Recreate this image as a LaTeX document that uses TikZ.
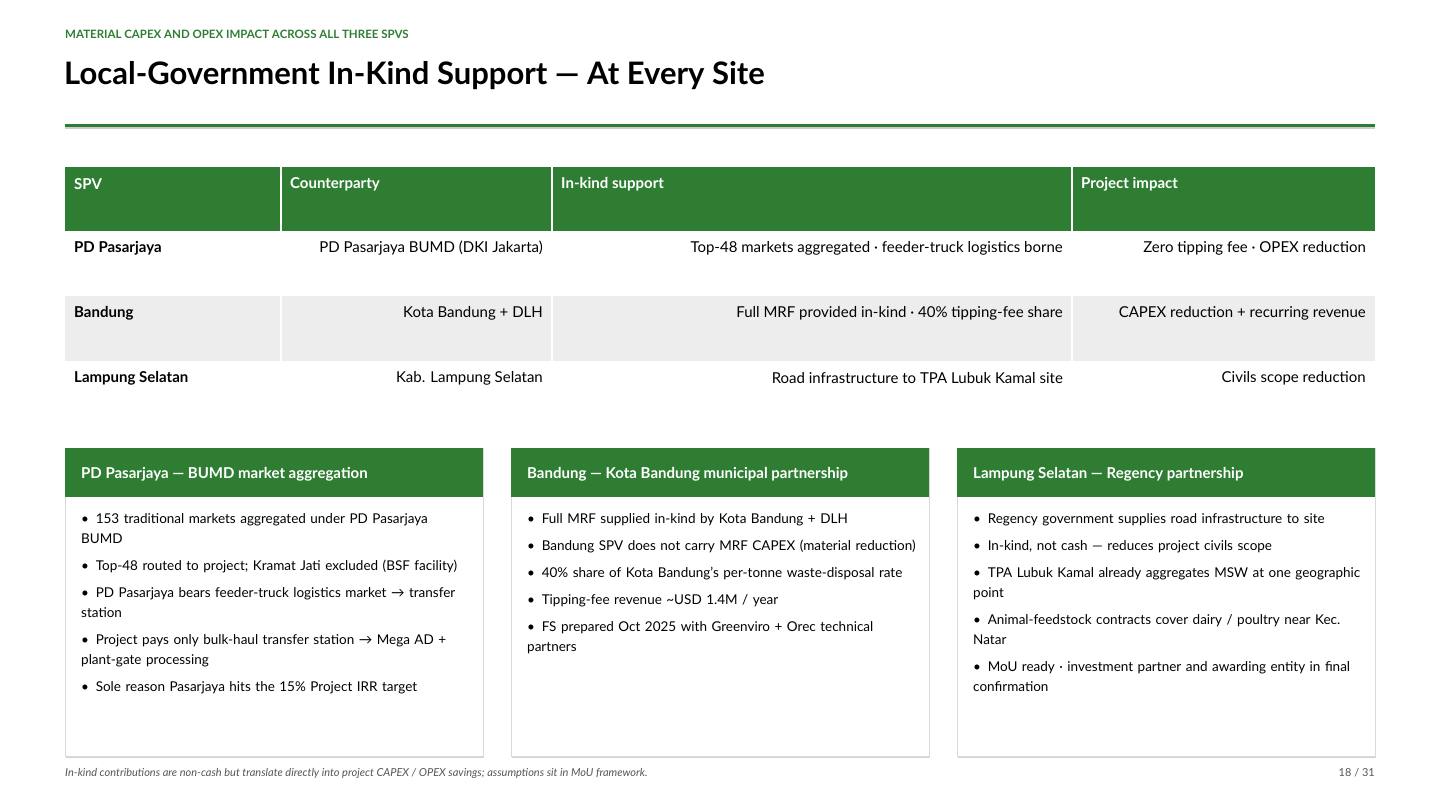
\documentclass[tikz,border=0pt]{standalone}
\usepackage{fontspec}
\setmainfont{Lato}
\usetikzlibrary{shadows}
\definecolor{grn}{HTML}{2E7D32}
\definecolor{rowg}{HTML}{EDEDED}
\definecolor{ftg}{HTML}{555555}
\hyphenpenalty=10000
\exhyphenpenalty=10000
\begin{document}
\begin{tikzpicture}[x=1pt,y=-1pt,
 hd/.style={anchor=west,text=white,font=\fontsize{15}{19}\selectfont\bfseries,inner sep=0},
 cl/.style={anchor=east,font=\fontsize{15}{19}\selectfont,inner sep=0},
 c0/.style={anchor=west,font=\fontsize{15}{19}\selectfont\bfseries,inner sep=0},
 card/.style={draw=black!15,fill=white,drop shadow={shadow xshift=1pt,shadow yshift=-2pt,opacity=.35}},
 ctitle/.style={anchor=west,text=white,font=\fontsize{15}{19}\selectfont\bfseries,inner sep=0},
 body/.style={anchor=north west,text width=390pt,align=left,inner sep=0,font=\fontsize{13.5}{20}\selectfont}]
\useasboundingbox (0,0) rectangle (1440,810);
\node[anchor=west,inner sep=0,text=grn,font=\fontsize{11.5}{14}\selectfont\bfseries] (sub) at (65,34) {MATERIAL CAPEX AND OPEX IMPACT ACROSS ALL THREE SPVS};
\node[anchor=west,inner sep=0,font=\fontsize{31}{40}\selectfont\bfseries] (title) at (64,76) {Local-Government In-Kind Support — At Every Site};
\fill[black!20] (65,127) rectangle (1375,129);
\fill[grn] (65,124) rectangle (1375,127);
% table
\fill[grn] (65,167) rectangle (1375,231);
\fill[rowg] (65,296) rectangle (1375,361);
\foreach \x in {281,552,1072} \draw[white,line width=2pt] (\x,167) -- (\x,361);
\node[hd] (h1) at (74,184) {SPV};
\node[hd] (h2) at (290,184) {Counterparty};
\node[hd] (h3) at (561,184) {In-kind support};
\node[hd] (h4) at (1081,184) {Project impact};
\node[c0] (r1a) at (74,248) {PD Pasarjaya};
\node[cl] (r1b) at (543,248) {PD Pasarjaya BUMD (DKI Jakarta)};
\node[cl] (r1c) at (1063,248) {Top-48 markets aggregated · feeder-truck logistics borne};
\node[cl] (r1d) at (1366,248) {Zero tipping fee · OPEX reduction};
\node[c0] (r2a) at (74,313) {Bandung};
\node[cl] (r2b) at (543,313) {Kota Bandung + DLH};
\node[cl] (r2c) at (1063,313) {Full MRF provided in-kind · 40\% tipping-fee share};
\node[cl] (r2d) at (1366,313) {CAPEX reduction + recurring revenue};
\node[c0] (r3a) at (74,378) {Lampung Selatan};
\node[cl] (r3b) at (543,378) {Kab. Lampung Selatan};
\node[cl] (r3c) at (1063,378) {Road infrastructure to TPA Lubuk Kamal site};
\node[cl] (r3d) at (1366,378) {Civils scope reduction};
% cards
\foreach \x in {65,511,957}{
 \draw[card] (\x,448) rectangle ++(418,308);
 \fill[grn] (\x,448) rectangle ++(418,49);
}
\node[ctitle] (t1) at (81,474) {PD Pasarjaya — BUMD market aggregation};
\node[ctitle] (t2) at (527,474) {Bandung — Kota Bandung municipal partnership};
\node[ctitle] (t3) at (973,474) {Lampung Selatan — Regency partnership};
\def\gap{\par\vspace{7pt}}
\node[body] (b1) at (81,513) {•\, 153 traditional markets aggregated under PD Pasarjaya BUMD\gap
•\, Top-48 routed to project; Kramat Jati excluded (BSF facility)\gap
•\, PD Pasarjaya bears feeder-truck logistics market → transfer station\gap
•\, Project pays only bulk-haul transfer station → Mega AD + plant-gate processing\gap
•\, Sole reason Pasarjaya hits the 15\% Project IRR target};
\node[body] (b2) at (527,513) {•\, Full MRF supplied in-kind by Kota Bandung + DLH\gap
•\, Bandung SPV does not carry MRF CAPEX (material reduction)\gap
•\, 40\% share of Kota Bandung's per-tonne waste-disposal rate\gap
•\, Tipping-fee revenue \textasciitilde USD 1.4M / year\gap
•\, FS prepared Oct 2025 with Greenviro + Orec technical partners};
\node[body] (b3) at (973,513) {•\, Regency government supplies road infrastructure to site\gap
•\, In-kind, not cash — reduces project civils scope\gap
•\, TPA Lubuk Kamal already aggregates MSW at one geographic point\gap
•\, Animal-feedstock contracts cover dairy / poultry near Kec. Natar\gap
•\, MoU ready · investment partner and awarding entity in final confirmation};
\node[anchor=west,inner sep=0,text=ftg,font=\fontsize{11}{14}\selectfont\itshape] (foot) at (65,773) {In-kind contributions are non-cash but translate directly into project CAPEX / OPEX savings; assumptions sit in MoU framework.};
\node[anchor=east,inner sep=0,text=ftg,font=\fontsize{11}{14}\selectfont] (pg) at (1375,773) {18 / 31};
\end{tikzpicture}
\end{document}
